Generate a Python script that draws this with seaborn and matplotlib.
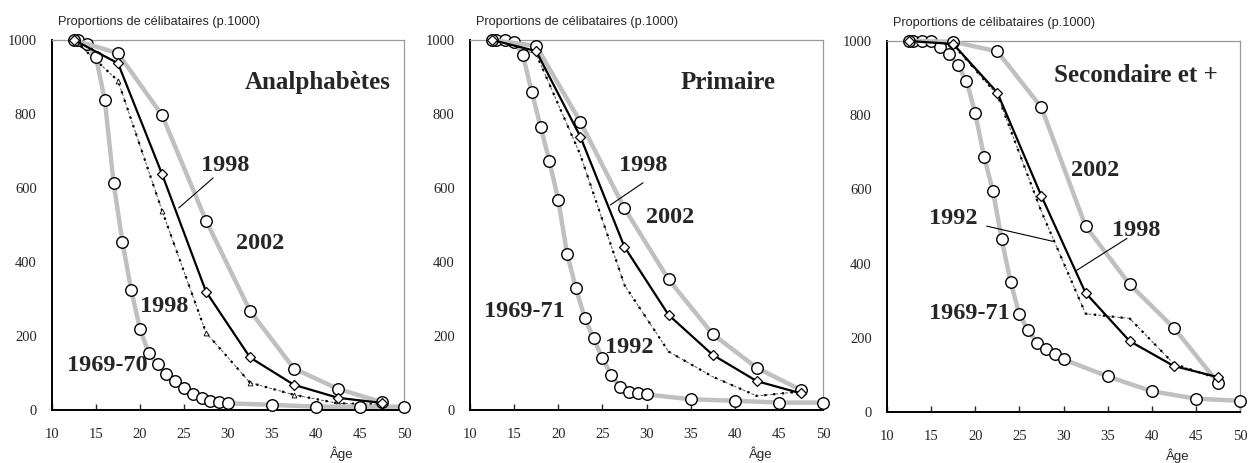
import matplotlib
matplotlib.use("Agg")
import matplotlib.pyplot as plt
import seaborn as sns
import pandas as pd

# ---------------- data ----------------
ages_annual = [13, 14, 15, 16, 17, 18, 19, 20, 21, 22, 23, 24, 25, 26, 27, 28, 29, 30, 35, 40, 45, 50]
ages_group = [12.5, 17.5, 22.5, 27.5, 32.5, 37.5, 42.5, 47.5]

panel_titles = ["Analphabètes", "Primaire", "Secondaire et +"]

old_anal = [1000, 988, 953, 838, 613, 455, 324, 219, 153, 123, 97, 78, 59, 43, 32, 25, 22, 18, 14, 9, 9, 9]
old_prim = [1000, 1000, 995, 959, 860, 766, 672, 568, 422, 330, 248, 194, 140, 95, 63, 48, 45, 42, 29, 25, 20, 20]
old_sec = [1000, 1000, 1000, 985, 965, 935, 893, 805, 688, 596, 465, 351, 263, 220, 187, 171, 155, 142, 96, 56, 36, 30]

y2002_anal = [1000, 964, 797, 512, 268, 112, 57, 21]
y2002_prim = [1000, 984, 779, 545, 353, 205, 114, 54]
y2002_sec = [1000, 998, 972, 821, 501, 344, 227, 79]

y1998_anal = [1000, 937, 638, 320, 142, 68, 33, 19]
y1998_prim = [1000, 970, 739, 441, 257, 149, 78, 45]
y1998_sec = [1000, 992, 861, 582, 321, 191, 124, 94]

y1992_anal = [1000, 890, 539, 209, 74, 41, 18, 15]
y1992_prim = [1000, 962, 690, 338, 158, 90, 38, 50]
y1992_sec = [1000, 990, 855, 540, 265, 252, 130, 90]

x_ticks = [10, 15, 20, 25, 30, 35, 40, 45, 50]
y_ticks = [0, 200, 400, 600, 800, 1000]

ylabel_text = "Proportions de célibataires (p.1000)"
xlabel_text = "Âge"

# annotation texts: (text, age, value)
labels = [
    [("1998", 29.7, 662), ("2002", 33.6, 451), ("1998", 22.8, 281), ("1969-70", 16.3, 119)],
    [("1998", 29.6, 662), ("2002", 32.7, 519), ("1969-71", 16.2, 265), ("1992", 28.1, 170)],
    [("2002", 33.6, 652), ("1992", 17.5, 522), ("1998", 38.2, 490), ("1969-71", 19.3, 266)],
]
title_pos = [(40.2, 886), (39.2, 884), (38.2, 906)]
leaders = [
    [((28.3, 627), (24.4, 546))],
    [((29.6, 614), (25.9, 554))],
    [((21.3, 501), (28.8, 460)), ((37.2, 468), (31.5, 382))],
]

# ---------------- style ----------------
sns.set_style("white")
plt.rcParams["font.family"] = ["Liberation Serif", "DejaVu Serif"]

fig = plt.figure(figsize=(12.48, 4.63), dpi=100)
W, H = 1248, 463
axes_px = [(52, 404, 40, 410), (470, 823, 40, 410), (887, 1240, 41, 412)]

olds = [old_anal, old_prim, old_sec]
s2002 = [y2002_anal, y2002_prim, y2002_sec]
s1998 = [y1998_anal, y1998_prim, y1998_sec]
s1992 = [y1992_anal, y1992_prim, y1992_sec]

grey = "#c0c0c0"
for i, (l, r, t, b) in enumerate(axes_px):
    ax = fig.add_axes([l / W, 1 - b / H, (r - l) / W, (b - t) / H])
    df_old = pd.DataFrame({"age": ages_annual, "val": olds[i]})
    df_grp = pd.DataFrame({"age": ages_group, "v2002": s2002[i], "v1998": s1998[i], "v1992": s1992[i]})

    # 1992 dotted / thin dashed
    sns.lineplot(data=df_grp, x="age", y="v1992", ax=ax, color="#555555", lw=0.7,
                 linestyle=(0, (3, 2)), clip_on=False, zorder=2)
    sns.lineplot(data=df_grp, x="age", y="v1992", ax=ax, color="black", lw=1.6,
                 linestyle=(0, (1, 3)), clip_on=False, zorder=2,
                 marker="^" if i == 0 else None, markersize=3.5,
                 markerfacecolor="white", markeredgecolor="black", markeredgewidth=0.6)
    # grey thick lines with circles
    sns.lineplot(data=df_old, x="age", y="val", ax=ax, color=grey, lw=3.2,
                 marker="o", markersize=8.3, markerfacecolor="white",
                 markeredgecolor="black", markeredgewidth=1.0, clip_on=False, zorder=3)
    sns.lineplot(data=df_grp, x="age", y="v2002", ax=ax, color=grey, lw=3.2,
                 marker="o", markersize=8.3, markerfacecolor="white",
                 markeredgecolor="black", markeredgewidth=1.0, clip_on=False, zorder=3)
    # 1998 black line with diamonds
    sns.lineplot(data=df_grp, x="age", y="v1998", ax=ax, color="black", lw=1.6,
                 marker="D", markersize=5.2, markerfacecolor="white",
                 markeredgecolor="black", markeredgewidth=0.9, clip_on=False, zorder=4)

    ax.set_xlim(10, 50)
    ax.set_ylim(0, 1000)
    ax.set_xticks(x_ticks)
    ax.set_yticks(y_ticks)
    ax.set_xticklabels([str(v) for v in x_ticks], fontsize=10.5)
    ax.set_yticklabels([str(v) for v in y_ticks], fontsize=10.5)
    ax.tick_params(axis="x", direction="in", length=4, width=1, pad=13, bottom=True)
    ax.tick_params(axis="y", length=0, pad=11)
    ax.set_xlabel("")
    ax.set_ylabel("")
    for side in ["left", "bottom"]:
        ax.spines[side].set_color("black")
        ax.spines[side].set_linewidth(1.4)
    for side in ["top", "right"]:
        ax.spines[side].set_color("#999999")
        ax.spines[side].set_linewidth(0.9)

    ax.text(0.018, 1.049, ylabel_text, transform=ax.transAxes, fontsize=9.2,
            family=["Liberation Sans", "DejaVu Sans"], va="center", ha="left")
    ax.text(0.824, -0.118, xlabel_text, transform=ax.transAxes, fontsize=9.5,
            family=["Liberation Sans", "DejaVu Sans"], va="center", ha="center")

    tx, ty = title_pos[i]
    ax.text(tx, ty, panel_titles[i], fontsize=18, fontweight="bold", ha="center", va="center")
    for txt, ax_x, ax_y in labels[i]:
        ax.text(ax_x, ax_y, txt, fontsize=17.5, fontweight="bold", ha="center", va="center", zorder=6)
    for (p1, p2) in leaders[i]:
        ax.plot([p1[0], p2[0]], [p1[1], p2[1]], color="black", lw=0.8, zorder=5)

    leg = ax.get_legend()
    if leg is not None:
        leg.remove()

fig.savefig("out.png", dpi=100, facecolor="white")
